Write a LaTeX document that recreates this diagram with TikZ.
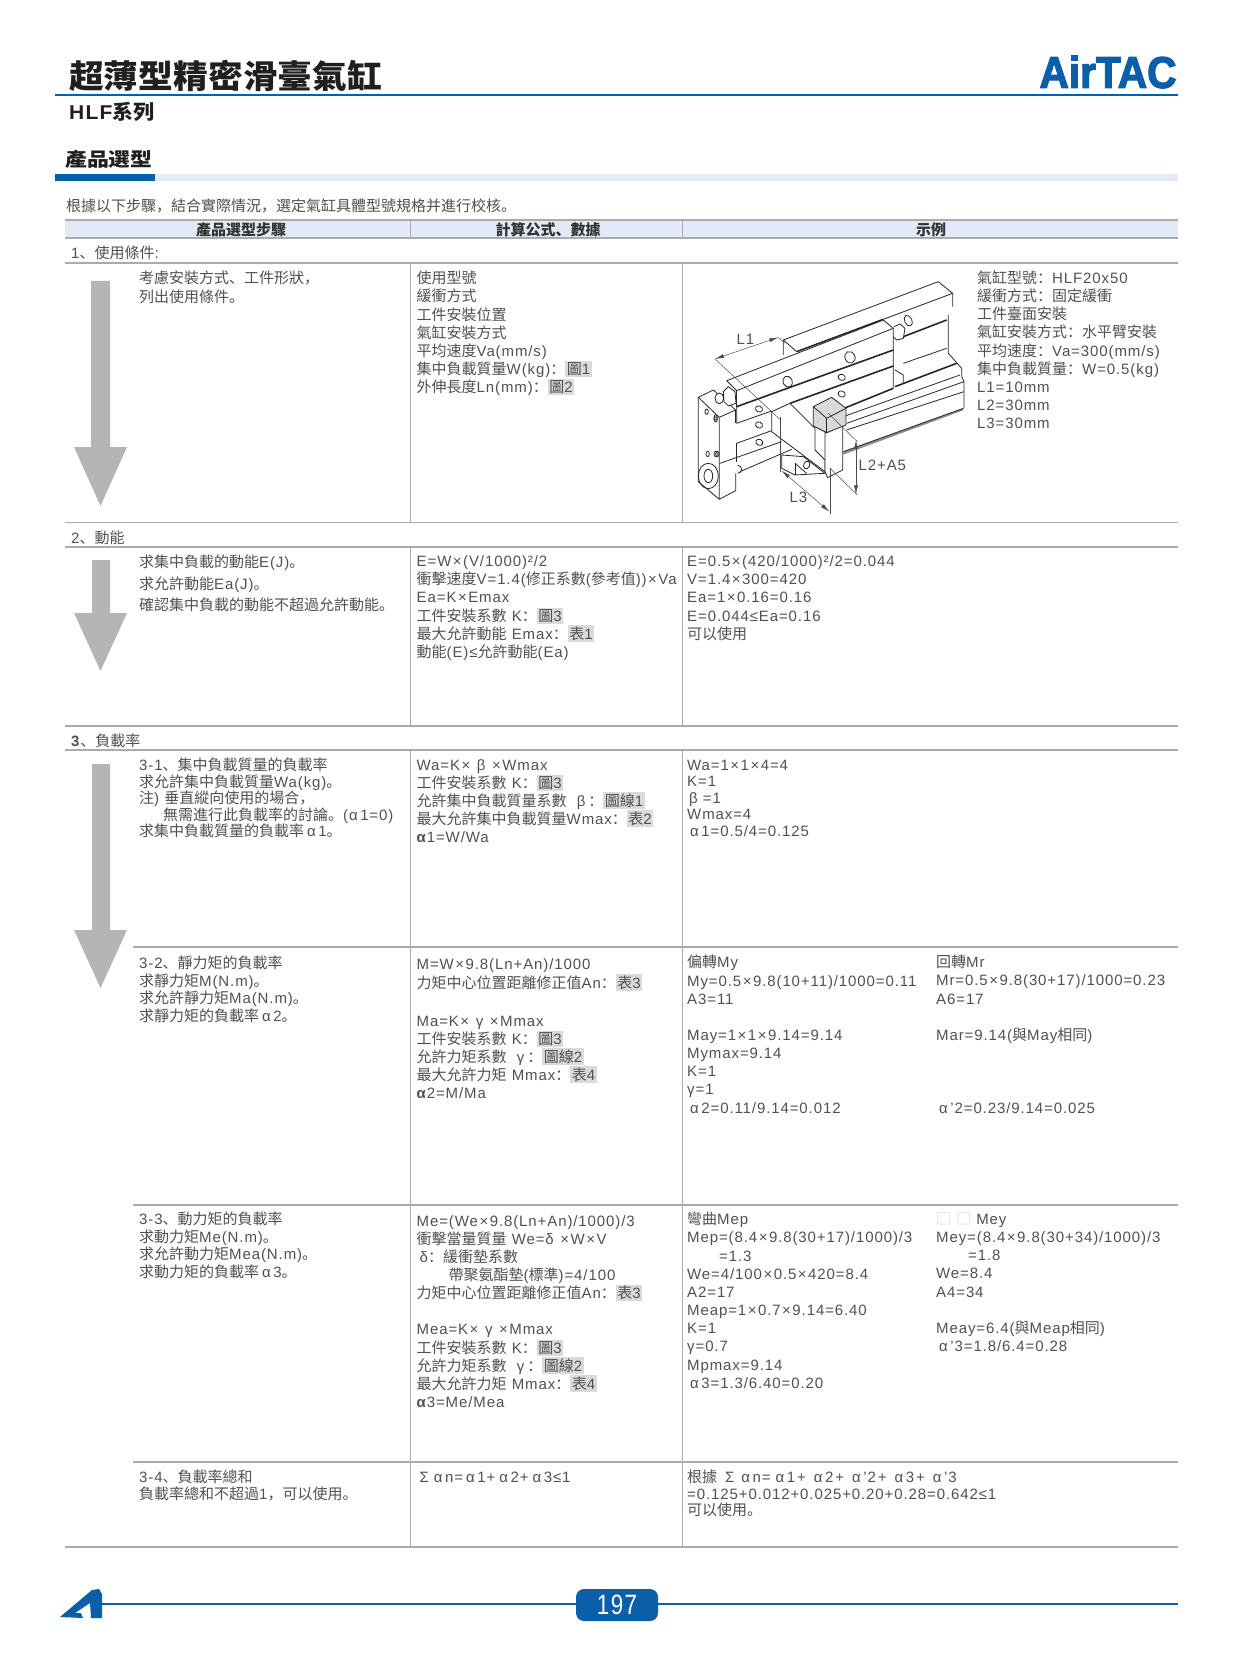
\documentclass[tikz,border=0pt]{standalone}
\usepackage{xcolor}
\usepackage{fontspec}
\usetikzlibrary{arrows.meta,positioning}
\setmainfont[LetterSpace=6]{Liberation Sans}
\newfontfamily\cjkfont{Noto Sans CJK SC}
\newfontfamily\logofont[FakeBold=3]{Liberation Sans}

% CJK characters switch to the CJK font by themselves
\newXeTeXintercharclass\cjkclass
\newcount\chcnt
\chcnt="2E80
\loop\ifnum\chcnt<"A000 \XeTeXcharclass\chcnt=\cjkclass \advance\chcnt by 1 \repeat
\chcnt="FF00
\loop\ifnum\chcnt<"FFF0 \XeTeXcharclass\chcnt=\cjkclass \advance\chcnt by 1 \repeat
\XeTeXcharclass"25A1=\cjkclass
\XeTeXinterchartokenstate=1
\XeTeXinterchartoks 0 \cjkclass = {\begingroup\cjkfont}
\XeTeXinterchartoks 4095 \cjkclass = {\begingroup\cjkfont}
\XeTeXinterchartoks \cjkclass 0 = {\endgroup}
\XeTeXinterchartoks \cjkclass 4095 = {\endgroup}

\definecolor{airblue}{HTML}{0B5FA8}
\definecolor{bandblue}{HTML}{E1EAF6}
\definecolor{rulegray}{HTML}{ABABAB}
\definecolor{arrowgray}{HTML}{B5B5B5}
\definecolor{tagfill}{HTML}{DADADA}
\definecolor{inkgray}{HTML}{505050}

\newcommand{\tagbox}[1]{\smash{\setlength{\fboxsep}{1.5pt}\colorbox{tagfill}{#1}}}
\newcommand{\tm}{\kern1.5pt×\kern1.5pt}
\newcommand{\al}{α\kern2.5pt}
\newcommand{\cln}{{\cjkfont\char"FF1A\relax}}
\newcommand{\cma}{{\cjkfont\char"FF0C\relax}}

\tikzset{
  cell/.style={anchor=north west,inner sep=0pt,align=left,text=inkgray,
    font=\fontsize{15}{18.15}\selectfont,execute at begin node={\strut}},
  tight/.style={font=\fontsize{15}{16.5}\selectfont},
  mid/.style={font=\fontsize{15}{17.4}\selectfont},
  wide/.style={font=\fontsize{15}{21.5}\selectfont},
  tabrule/.style={rulegray,line width=1.2pt},
  headtxt/.style={inner sep=0pt,text=black!80,font=\fontsize{15}{18}\selectfont\bfseries},
  bigarrow/.style={fill=arrowgray,draw=none},
  pl/.style={line width=.8pt,black!85,line join=round},
  hv/.style={line width=1.6pt,black!85},
  dimln/.style={line width=.5pt,black!70},
  dimarr/.style={{Latex[length=9pt,width=4pt]}-{Latex[length=9pt,width=4pt]},line width=.5pt,black!70},
}

\begin{document}
\begin{tikzpicture}[x=1pt,y=-1pt]
    \useasboundingbox (0,0) rectangle (1235,1677);

    % page head
    \node[anchor=west,inner sep=0pt,text=black!88,font=\fontsize{32.5}{36}\selectfont\bfseries] (title) at (69,76) {\scalebox{1.07}[1]{超薄型精密滑臺氣缸}};
    \node[anchor=west,inner sep=0pt,text=black!88,font=\fontsize{20}{22}\selectfont\bfseries] (series) at (69,112) {\scalebox{1.05}[1]{HLF系列}};
    \node[inner sep=0pt,text=airblue,font=\logofont\bfseries] (logo) at (1108,72) {\resizebox{137pt}{32pt}{AirTAC}};
    \draw [airblue,line width=2.4pt] (55,95) -- (1178,95);

    \node[anchor=west,inner sep=0pt,text=black!88,font=\fontsize{19}{20}\selectfont\bfseries] (pick) at (65,159) {\scalebox{1.15}[1]{產品選型}};
    \fill [bandblue] (55,174) rectangle (1178,181);
    \fill [airblue] (55,174) rectangle (155,181);
    \node[cell,anchor=west] (intro) at (66,208) {根據以下步驟\cma 結合實際情況\cma 選定氣缸具體型號規格并進行校核。};

    % table head
    \fill [bandblue] (65,220) rectangle (1178,238);
    \draw [tabrule] (65,220) -- (1178,220);
    \draw [tabrule] (65,238) -- (1178,238);
    \draw [rulegray,line width=.8pt] (410,220) -- (410,238);
    \draw [rulegray,line width=.8pt] (682,220) -- (682,238);
    \node[headtxt] (h1) at (241,229.5) {產品選型步驟};
    \node[headtxt] (h2) at (548,229.5) {計算公式、數據};
    \node[headtxt] (h3) at (931,229.5) {示例};

    % table rules
    \foreach \yy in {263,522.5,547,726,750,1547}
        \draw [tabrule] (65,\yy) -- (1178,\yy);
    \foreach \yy in {947,1205,1462}
        \draw [tabrule] (133,\yy) -- (1178,\yy);
    \foreach \xx in {410,682} {
        \draw [rulegray,line width=.9pt] (\xx,263) -- (\xx,522.5);
        \draw [rulegray,line width=.9pt] (\xx,547) -- (\xx,726);
        \draw [rulegray,line width=.9pt] (\xx,750) -- (\xx,1547);
    }

    % step arrows
    \fill [bigarrow] (91,281) -- (110,281) -- (110,447) -- (127,447) -- (100.5,506) -- (74,447) -- (91,447) -- cycle;
    \fill [bigarrow] (92,560) -- (110,560) -- (110,613) -- (127,613) -- (100.5,671) -- (74,613) -- (92,613) -- cycle;
    \fill [bigarrow] (92,764) -- (110,764) -- (110,930) -- (127,930) -- (100.5,988) -- (74,930) -- (92,930) -- cycle;

    % row labels
    \node[cell,anchor=west] (lab1) at (71,255) {1、使用條件:};
    \node[cell,anchor=west] (lab2) at (71,540) {2、動能};
    \node[cell,anchor=west] (lab3) at (71,743) {\textbf{3}、負載率};

    % row 1
    \node[cell] (r1a) at (139,271) {考慮安裝方式、工件形狀\cma\\列出使用條件。};
    \node[cell] (r1b) at (416.5,271) {使用型號\\緩衝方式\\工件安裝位置\\氣缸安裝方式\\平均速度Va(mm/s)\\集中負載質量W(kg)\cln\tagbox{圖1}\\外伸長度Ln(mm)\cln\tagbox{圖2}};
    \node[cell] (r1d) at (977,270.5) {氣缸型號\cln HLF20x50\\緩衝方式\cln 固定緩衝\\工件臺面安裝\\氣缸安裝方式\cln 水平臂安裝\\平均速度\cln Va=300(mm/s)\\集中負載質量\cln W=0.5(kg)\\L1=10mm\\L2=30mm\\L3=30mm};

    % row 2
    \node[cell,wide] (r2a) at (139,555) {求集中負載的動能E(J)。\\求允許動能Ea(J)。\\確認集中負載的動能不超過允許動能。};
    \node[cell] (r2b) at (416.5,555.5) {E=W\tm (V/1000)²/2\\衝擊速度V=1.4(修正系數(參考值))\tm Va\\Ea=K\tm Emax\\工件安裝系數 K\cln\tagbox{圖3}\\最大允許動能 Emax\cln\tagbox{表1}\\動能(E)≤允許動能(Ea)};
    \node[cell] (r2c) at (687,555.5) {E=0.5\tm (420/1000)²/2=0.044\\V=1.4\tm 300=420\\Ea=1\tm 0.16=0.16\\E=0.044≤Ea=0.16\\可以使用};

    % row 3-1
    \node[cell,tight] (r31a) at (139,758) {3-1、集中負載質量的負載率\\求允許集中負載質量Wa(kg)。\\注) 垂直縱向使用的場合\cma\\\hspace*{24pt}無需進行此負載率的討論。(\al 1=0)\\求集中負載質量的負載率\kern3pt\al 1。};
    \node[cell] (r31b) at (416.5,759) {Wa=K\tm\ β\ \tm Wmax\\工件安裝系數 K\cln\tagbox{圖3}\\允許集中負載質量系數\ \ β\kern3pt\cln\tagbox{圖線1}\\最大允許集中負載質量Wmax\cln\tagbox{表2}\\\textbf{α}1=W/Wa};
    \node[cell,tight] (r31c) at (687,759.5) {Wa=1\tm 1\tm 4=4\\K=1\\\kern2pt β =1\\Wmax=4\\\hspace*{3pt}\al 1=0.5/4=0.125};

    % row 3-2
    \node[cell,mid] (r32a) at (139,956) {3-2、靜力矩的負載率\\求靜力矩M(N.m)。\\求允許靜力矩Ma(N.m)。\\求靜力矩的負載率\kern3pt\al 2。};
    \node[cell] (r32b) at (416.5,958) {M=W\tm 9.8(Ln+An)/1000\\[1pt]力矩中心位置距離修正值An\cln\tagbox{表3}\\~\\[1.5pt]Ma=K\tm\ γ\ \tm Mmax\\工件安裝系數 K\cln\tagbox{圖3}\\允許力矩系數\ \ γ\kern3pt\cln\tagbox{圖線2}\\最大允許力矩 Mmax\cln\tagbox{表4}\\\textbf{α}2=M/Ma};
    \node[cell] (r32c) at (687,955) {偏轉My\\My=0.5\tm 9.8(10+11)/1000=0.11\\A3=11\\~\\May=1\tm 1\tm 9.14=9.14\\Mymax=9.14\\K=1\\γ=1\\\hspace*{3pt}\al 2=0.11/9.14=0.012};
    \node[cell] (r32d) at (936,955) {回轉Mr\\Mr=0.5\tm 9.8(30+17)/1000=0.23\\A6=17\\~\\Mar=9.14(與May相同)\\~\\~\\~\\\hspace*{3pt}\al '2=0.23/9.14=0.025};

    % row 3-3
    \node[cell,mid] (r33a) at (139,1212) {3-3、動力矩的負載率\\求動力矩Me(N.m)。\\求允許動力矩Mea(N.m)。\\求動力矩的負載率\kern3pt\al 3。};
    \node[cell] (r33b) at (416.5,1215) {Me=(We\tm 9.8(Ln+An)/1000)/3\\衝擊當量質量 We=δ\ \tm W\tm V\\\hspace*{3pt}δ\cln 緩衝墊系數\\\hspace*{32pt}帶聚氨酯墊(標準)=4/100\\力矩中心位置距離修正值An\cln\tagbox{表3}\\~\\Mea=K\tm\ γ\ \tm Mmax\\工件安裝系數 K\cln\tagbox{圖3}\\允許力矩系數\ \ γ\kern3pt\cln\tagbox{圖線2}\\最大允許力矩 Mmax\cln\tagbox{表4}\\\textbf{α}3=Me/Mea};
    \node[cell] (r33c) at (687,1212) {彎曲Mep\\Mep=(8.4\tm 9.8(30+17)/1000)/3\\\hspace*{32pt}=1.3\\We=4/100\tm 0.5\tm 420=8.4\\A2=17\\Meap=1\tm 0.7\tm 9.14=6.40\\K=1\\γ=0.7\\Mpmax=9.14\\\hspace*{3pt}\al 3=1.3/6.40=0.20};
    \node[cell] (r33d) at (936,1214) {\smash{\textcolor{black!18}{□ □}} Mey\\Mey=(8.4\tm 9.8(30+34)/1000)/3\\\hspace*{32pt}=1.8\\We=8.4\\A4=34\\~\\Meay=6.4(與Meap相同)\\\hspace*{3pt}\al '3=1.8/6.4=0.28};

    % row 3-4
    \node[cell,tight] (r34a) at (139,1470) {3-4、負載率總和\\負載率總和不超過1\cma 可以使用。};
    \node[cell] (r34b) at (416.5,1470) {\hspace*{3pt}Σ\kern5pt\al n=\kern3pt\al 1\kern1pt+\kern4pt\al 2\kern1pt+\kern4pt\al 3≤1};
    \node[cell,tight] (r34c) at (687,1470) {根據\kern8pt Σ\kern7pt\al n=\kern5pt\al 1\kern2pt+\kern8pt\al 2\kern2pt+\kern8pt\al '2\kern2pt+\kern8pt\al 3\kern2pt+\kern8pt\al '3\\=0.125+0.012+0.025+0.20+0.28=0.642≤1\\可以使用。};

    % cylinder
    \begin{scope}[shift={(670,260)},x=0.3333pt,y=-0.3333pt]
        % rear rail
        \draw [pl] (340,285) -- (340,240) -- (805,65) -- (848,100) -- (848,140);
        \draw [pl] (340,240) -- (380,275);
        \draw [hv] (380,275) -- (640,178);
        \draw [pl] (640,178) -- (848,100);
        % cylinder body
        \draw [pl] (835,165) -- (835,280) -- (875,325) -- (875,350) -- (882,365) -- (882,445);
        \draw [hv] (700,230) -- (830,180);
        \draw [pl] (700,310) -- (830,265);
        \draw [hv] (675,380) -- (860,310);
        \draw [pl] (520,470) -- (870,345);
        \draw [pl] (530,490) -- (882,365);
        \draw [pl] (530,510) -- (882,395);
        \fill [black!45] (520,575) -- (880,445) -- (880,451) -- (520,584) -- cycle;
        \draw [pl] (520,575) -- (880,445);
        % rear bolt and stub
        \draw [pl] (715,182) ellipse [x radius=11,y radius=17,rotate=25];
        \draw [pl,fill=white] (672,200) -- (690,192) -- (705,205) -- (700,235) -- (680,240) -- (670,230);
        \draw [pl] (675,330) -- (700,345) -- (700,372);
        % carriage
        \draw [pl] (170,362) -- (640,180) -- (670,205) -- (670,385);
        \draw [pl] (170,362) -- (200,392) -- (670,205);
        \draw [pl] (200,392) -- (200,440);
        \draw [hv] (200,440) -- (670,270);
        \draw [pl] (200,440) -- (200,490) -- (305,453);
        \draw [hv] (360,430) -- (670,318);
        \draw [pl] (200,550) -- (305,512);
        \draw [pl] (200,550) -- (200,605);
        \draw [hv] (510,450) -- (670,385);
        % end block
        \draw [pl] (85,412) -- (130,390) -- (197,450) -- (148,472) -- cycle;
        \draw [pl] (85,412) -- (85,665) -- (148,718) -- (148,472);
        \draw [pl] (148,718) -- (197,692) -- (197,640);
        \draw [pl] (197,450) -- (197,490);
        \draw [pl] (150,610) -- (335,545);
        \draw [pl] (210,635) -- (365,568);
        \draw [pl] (203,640) arc [start angle=90,end angle=-90,radius=12];
        \draw [pl] (115,648) ellipse [x radius=30,y radius=38];
        \draw [pl] (115,648) ellipse [x radius=13,y radius=20];
        \foreach \px/\py in {110/455,137/472,137/478,113/582,137/582,142/582}
            \draw [pl] (\px,\py) ellipse [x radius=5,y radius=8];
        % front bolt
        \draw [pl,fill=white] (160,395) -- (175,380) -- (195,395) -- (198,430) -- (175,438) -- (162,425) -- cycle;
        \draw [pl,fill=white] (148,415) ellipse [x radius=13,y radius=16];
        % holes in the carriage
        \draw [pl] (353,365) ellipse [x radius=14,y radius=17,rotate=25];
        \draw [pl] (540,292) ellipse [x radius=15,y radius=18,rotate=25];
        \foreach \px/\py in {515/352,515/402,267/447,267/495,268/547}
            \draw [pl] (\px,\py) ellipse [x radius=11,y radius=9,rotate=-25];
        % lower bracket
        \draw [pl,fill=white] (335,585) -- (335,625) -- (375,645) -- (465,640) -- (400,590) -- cycle;
        \draw [pl] (375,610) -- (375,645);
        \draw [pl] (375,610) -- (410,640);
        \draw [pl] (410,615) ellipse [x radius=9,y radius=12,rotate=-25];
        % load bracket
        \draw [pl,fill=white] (305,515) -- (305,455) -- (360,430) -- (435,505) -- (435,570) -- (465,600) -- (465,635) -- cycle;
        \draw [pl,fill=white] (465,518) -- (465,635) -- (473,653) -- (518,630) -- (518,495) -- (470,518) -- cycle;
        % load block
        \draw [pl,fill=black!15] (430,440) -- (485,412) -- (528,445) -- (528,495) -- (470,518) -- (430,498) -- cycle;
        \draw [pl] (430,440) -- (470,475) -- (528,445);
        \draw [pl] (470,475) -- (470,518);
        % dimensions
        \draw [dimln] (135,297) -- (332,480);
        \draw [dimln] (325,232) -- (345,250);
        \draw [dimln] (332,470) -- (332,635);
        \draw [dimln] (480,625) -- (480,762);
        \draw [dimln] (475,460) -- (562,545);
        \draw [dimln] (480,625) -- (562,705);
        \coordinate (l1a) at (135,297);
        \coordinate (l1b) at (325,232);
        \coordinate (l3a) at (335,632);
        \coordinate (l3b) at (478,755);
        \coordinate (l2a) at (558,540);
        \coordinate (l2b) at (558,703);
        \draw [dimarr] (l1a) -- (l1b);
        \draw [dimarr] (l3a) -- (l3b);
        \draw [dimarr] (l2a) -- (l2b);
        \node[cell,anchor=center] (lblone) at (226,243) {L1};
        \node[cell,anchor=center] (lblthree) at (385,716) {L3};
        \node[cell,anchor=center] (lbltwo) at (637,622) {L2+A5};
    \end{scope}

    % page foot
    \draw [airblue,line width=2pt] (100,1604) -- (1178,1604);
    \fill [airblue] (60,1617) -- (92,1590) -- (99,1589) -- (102,1594) -- (102,1618) -- (91,1618) -- (90,1603) -- (75,1613) -- (81,1613) -- (83,1618) -- cycle;
    \node[rounded corners=8pt,fill=airblue,minimum width=82pt,minimum height=32pt,inner sep=0pt,text=white,font=\fontsize{28}{30}\selectfont] (page) at (617,1605) {\scalebox{0.8}[1]{197}};
\end{tikzpicture}
\end{document}
